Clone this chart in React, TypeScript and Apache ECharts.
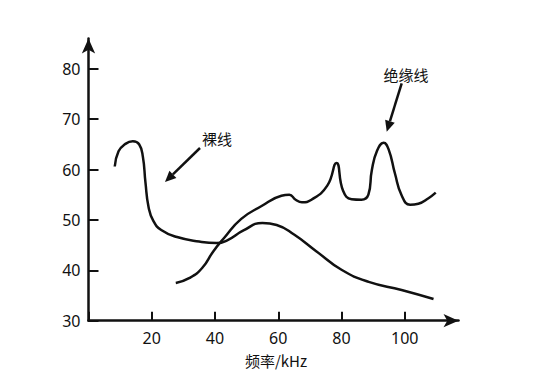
import React, { useEffect, useRef } from "react";
import * as echarts from "echarts";

const xTicks = [0, 20, 40, 60, 80, 100];
const yTicks = [30, 40, 50, 60, 70, 80];

const bareWire: [number, number][] = [
  [8.3, 60.6], [9.5, 63.6], [11.5, 65.0], [14.0, 65.6], [16.0, 65.0], [17.2, 62.5],
  [18.0, 57.5], [19.0, 52.5], [20.5, 49.8], [23.0, 48.0], [28.0, 46.6],
  [35.0, 45.7], [40.5, 45.4], [44.0, 46.0], [49.0, 47.9], [55.0, 49.4], [59.5, 49.0],
  [65.0, 47.1], [72.0, 43.8], [80.0, 40.1], [88.6, 37.7], [99.0, 36.1],
  [109.1, 34.3],
];

const insulatedWire: [number, number][] = [
  [27.6, 37.5], [32.0, 38.5], [36.0, 40.5], [39.5, 43.8], [43.0, 46.5], [48.3, 50.2],
  [54.6, 52.7], [61.0, 54.8], [63.5, 55.0], [65.5, 54.0], [67.5, 53.5], [70.5, 54.0],
  [75.5, 56.8], [78.4, 61.3], [80.5, 55.8], [83.2, 54.1],
  [86.3, 54.0], [88.5, 55.0], [89.6, 59.9], [91.3, 63.8], [93.3, 65.3], [94.9, 64.0],
  [96.9, 59.2], [99.0, 54.9], [101.7, 53.0], [104.3, 53.2], [107.5, 54.3], [109.8, 55.4],
];

const labels = { bare: "裸线", insulated: "绝缘线", xName: "频率/kHz" };

function arrow(x1: number, y1: number, x2: number, y2: number) {
  const dx = x2 - x1, dy = y2 - y1;
  const len = Math.sqrt(dx * dx + dy * dy);
  const ux = dx / len, uy = dy / len;
  const hl = 11, hw = 5;
  const bx = x2 - ux * hl, by = y2 - uy * hl;
  return [
    { type: "line", shape: { x1, y1, x2: bx, y2: by }, style: { stroke: "#111", lineWidth: 2.5 } },
    {
      type: "polygon",
      shape: { points: [[x2, y2], [bx - uy * hw, by + ux * hw], [bx + uy * hw, by - ux * hw]] },
      style: { fill: "#111" },
    },
  ];
}

export default function App() {
  const ref = useRef<HTMLDivElement>(null);
  useEffect(() => {
    const chart = echarts.init(ref.current!, null, { renderer: "svg" });
    const pxX = 3.1625, pxY = 5.04, left = 88.5, y30 = 320.7;
    const x1Max = 117, y1Max = 86;
    const font = "'Noto Sans', sans-serif";
    const cjk = "'Noto Sans CJK SC', sans-serif";
    chart.setOption({
      animation: false,
      backgroundColor: "#fff",
      grid: [
        { left, top: y30 - (y1Max - 30) * pxY, width: x1Max * pxX, height: (y1Max - 30) * pxY },
        { left, top: y30 - 50 * pxY, width: 100 * pxX, height: 50 * pxY },
      ],
      xAxis: [
        {
          type: "value", gridIndex: 0, min: 0, max: x1Max,
          axisLine: { show: true, onZero: false, symbol: ["none", "arrow"], symbolSize: [10, 15], lineStyle: { color: "#111", width: 2.5 } },
          axisTick: { show: false }, axisLabel: { show: false }, splitLine: { show: false },
        },
        {
          type: "value", gridIndex: 1, min: 0, max: 100, interval: 20,
          axisLine: { show: false },
          axisTick: { show: true, inside: true, length: 9, lineStyle: { color: "#111", width: 2 } },
          axisLabel: {
            margin: 9, color: "#111", fontSize: 16, fontFamily: font,
            formatter: (v: number) => (v === 0 ? "" : String(v)),
          },
          splitLine: { show: false },
        },
      ],
      yAxis: [
        {
          type: "value", gridIndex: 0, min: 30, max: y1Max,
          axisLine: { show: true, onZero: false, symbol: ["none", "arrow"], symbolSize: [10, 15], lineStyle: { color: "#111", width: 2.5 } },
          axisTick: { show: false }, axisLabel: { show: false }, splitLine: { show: false },
        },
        {
          type: "value", gridIndex: 1, min: 30, max: 80, interval: 10,
          axisLine: { show: false },
          axisTick: { show: true, inside: true, length: 10, lineStyle: { color: "#111", width: 2 } },
          axisLabel: { margin: 8, color: "#111", fontSize: 16, fontFamily: font },
          splitLine: { show: false },
        },
      ],
      series: [
        {
          name: labels.bare, type: "line", xAxisIndex: 0, yAxisIndex: 0, data: bareWire,
          smooth: 0.5, showSymbol: false,
          lineStyle: { color: "#111", width: 2.5 },
        },
        {
          name: labels.insulated, type: "line", xAxisIndex: 0, yAxisIndex: 0, data: insulatedWire,
          smooth: 0.5, showSymbol: false,
          lineStyle: { color: "#111", width: 2.5 },
        },
      ],
      graphic: [
        { type: "text", x: 217, y: 138, style: { text: labels.bare, font: `15px ${cjk}`, fill: "#111", align: "center", verticalAlign: "middle" } },
        { type: "text", x: 406, y: 74, style: { text: labels.insulated, font: `15px ${cjk}`, fill: "#111", align: "center", verticalAlign: "middle" } },
        { type: "text", x: 276, y: 360, style: { text: labels.xName, font: `15px ${cjk}`, fill: "#111", align: "center", verticalAlign: "middle" } },
        ...arrow(200, 148, 165, 182),
        ...arrow(401.7, 83.3, 386.7, 131.7),
      ],
    });
    return () => chart.dispose();
  }, []);
  return <div ref={ref} style={{ position: "fixed", left: 0, top: 0, width: 543, height: 379 }} />;
}
